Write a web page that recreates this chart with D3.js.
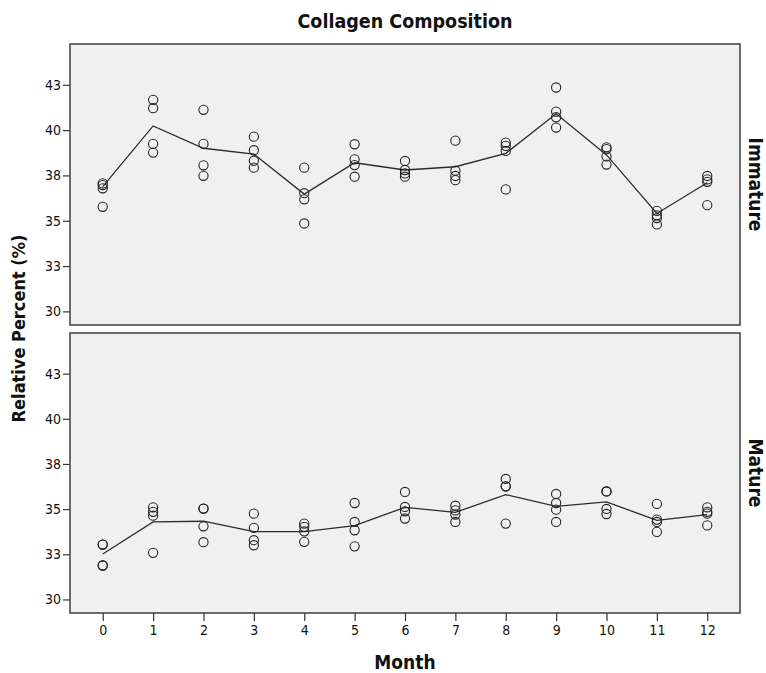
<!DOCTYPE html>
<html>
<head>
<meta charset="utf-8">
<script src="https://cdn.jsdelivr.net/npm/d3@7"></script>
<style>
  body { margin: 0; background: #ffffff; }
  svg text { font-family: "DejaVu Sans Condensed", "Liberation Sans Narrow", "DejaVu Sans", sans-serif; fill: #111; }
</style>
</head>
<body>
<svg id="chart" width="766" height="673"></svg>
<script>
// Months sampled
const months = [0, 1, 2, 3, 4, 5, 6, 7, 8, 9, 10, 11, 12];

// Individual sample readings (relative percent), one list per month
const immatureValues = [
  [37.06, 36.97, 36.79, 35.77],
  [41.67, 41.21, 39.24, 38.76],
  [41.12, 39.24, 38.06, 37.48],
  [39.64, 38.89, 38.31, 37.93],
  [37.93, 36.52, 36.18, 34.85],
  [39.22, 38.39, 38.07, 37.43],
  [38.30, 37.80, 37.61, 37.43],
  [39.42, 37.76, 37.47, 37.24],
  [39.31, 39.13, 38.85, 36.73],
  [42.35, 41.02, 40.71, 40.14],
  [39.05, 38.95, 38.55, 38.10],
  [35.55, 35.30, 35.15, 34.80],
  [37.47, 37.28, 37.15, 35.86]
];
const matureValues = [
  [33.04, 33.04, 31.88, 31.88],
  [35.10, 34.85, 34.64, 32.58],
  [35.03, 35.03, 34.05, 33.17],
  [34.75, 33.96, 33.28, 33.00],
  [34.20, 34.02, 33.77, 33.19],
  [35.34, 34.29, 33.83, 32.94],
  [35.95, 35.12, 34.88, 34.48],
  [35.19, 34.93, 34.70, 34.29],
  [36.67, 36.26, 36.26, 34.20],
  [35.84, 35.34, 34.97, 34.29],
  [35.98, 35.98, 35.01, 34.73],
  [35.29, 34.42, 34.29, 33.74],
  [35.10, 34.85, 34.75, 34.10]
];

// Summary line per month
const immatureTrend = [36.88, 40.23, 39.00, 38.68, 36.47, 38.20, 37.80, 37.98, 38.72, 40.90, 38.63, 35.40, 37.10];
const matureTrend   = [32.52, 34.29, 34.33, 33.76, 33.76, 34.09, 35.10, 34.82, 35.80, 35.15, 35.40, 34.38, 34.70];

// Panel names and axis ticks
const panelNames = ["Immature", "Mature"];
const yTickValues = [30, 32.5, 35, 37.5, 40, 42.5];
const yTickLabels = ["30", "33", "35", "38", "40", "43"];

const titleText = "Collagen Composition";
const xTitle = "Month";
const yTitle = "Relative Percent (%)";

// ---- layout ----
const svg = d3.select("#chart");
const left = 70, right = 740;
const panelBoxes = [
  { top: 44, bottom: 325 },
  { top: 333, bottom: 613 }
];
const yDomain = [29.25, 44.75];
const tickFont = '"DejaVu Sans Condensed", sans-serif';

const x = d3.scaleLinear().domain([-0.65, 12.65]).range([left, right]);

const panelData = [
  { name: panelNames[0], values: immatureValues, trend: immatureTrend },
  { name: panelNames[1], values: matureValues, trend: matureTrend }
];

svg.append("text")
  .attr("x", (left + right) / 2)
  .attr("y", 28)
  .attr("text-anchor", "middle")
  .attr("font-size", 19.5)
  .attr("font-weight", "bold")
  .text(titleText);

panelData.forEach((p, i) => {
  const box = panelBoxes[i];
  const y = d3.scaleLinear().domain(yDomain).range([box.bottom, box.top]);
  const g = svg.append("g");

  g.append("rect")
    .attr("x", left).attr("y", box.top)
    .attr("width", right - left).attr("height", box.bottom - box.top)
    .attr("fill", "#f0f0f0");

  // y axis
  const yAxis = d3.axisLeft(y)
    .tickValues(yTickValues)
    .tickFormat((d, k) => yTickLabels[k])
    .tickSize(7)
    .tickPadding(2);
  const ya = g.append("g").attr("transform", `translate(${left},0)`).call(yAxis);
  ya.select(".domain").remove();
  ya.selectAll(".tick line").attr("stroke", "#333").attr("stroke-width", 1.2);
  ya.selectAll(".tick text")
    .attr("font-size", 14)
    .attr("fill", "#222")
    .style("font-family", tickFont);

  // summary line
  const line = d3.line()
    .x((d, k) => x(months[k]))
    .y(d => y(d));
  g.append("path")
    .datum(p.trend)
    .attr("d", line)
    .attr("fill", "none")
    .attr("stroke", "#2b2b2b")
    .attr("stroke-width", 1.3);

  // sample points
  const pts = [];
  p.values.forEach((vals, k) => vals.forEach(v => pts.push({ m: months[k], v })));
  g.selectAll("circle.pt")
    .data(pts)
    .enter().append("circle")
    .attr("class", "pt")
    .attr("cx", d => x(d.m))
    .attr("cy", d => y(d.v))
    .attr("r", 4.6)
    .attr("fill", "none")
    .attr("stroke", "#222")
    .attr("stroke-width", 1.1);

  // panel frame
  g.append("rect")
    .attr("x", left).attr("y", box.top)
    .attr("width", right - left).attr("height", box.bottom - box.top)
    .attr("fill", "none")
    .attr("stroke", "#4a4a4a")
    .attr("stroke-width", 1.6);

  // strip label on the right
  const cy = (box.top + box.bottom) / 2;
  g.append("text")
    .attr("transform", `translate(749,${cy}) rotate(90)`)
    .attr("text-anchor", "middle")
    .attr("font-size", 19)
    .attr("font-weight", "bold")
    .text(p.name);
});

// x axis under the lower panel
const xAxis = d3.axisBottom(x)
  .tickValues(months)
  .tickFormat(d => String(d))
  .tickSize(8)
  .tickPadding(4);
const xa = svg.append("g")
  .attr("transform", `translate(0,${panelBoxes[1].bottom})`)
  .call(xAxis);
xa.select(".domain").remove();
xa.selectAll(".tick line").attr("stroke", "#333").attr("stroke-width", 1.2);
xa.selectAll(".tick text").attr("font-size", 14).attr("fill", "#222")
  .style("font-family", tickFont);

svg.append("text")
  .attr("x", (left + right) / 2)
  .attr("y", 669)
  .attr("text-anchor", "middle")
  .attr("font-size", 19)
  .attr("font-weight", "bold")
  .text(xTitle);

svg.append("text")
  .attr("transform", `translate(25,${(panelBoxes[0].top + panelBoxes[1].bottom) / 2}) rotate(-90)`)
  .attr("text-anchor", "middle")
  .attr("font-size", 18)
  .attr("font-weight", "bold")
  .text(yTitle);
</script>
</body>
</html>
